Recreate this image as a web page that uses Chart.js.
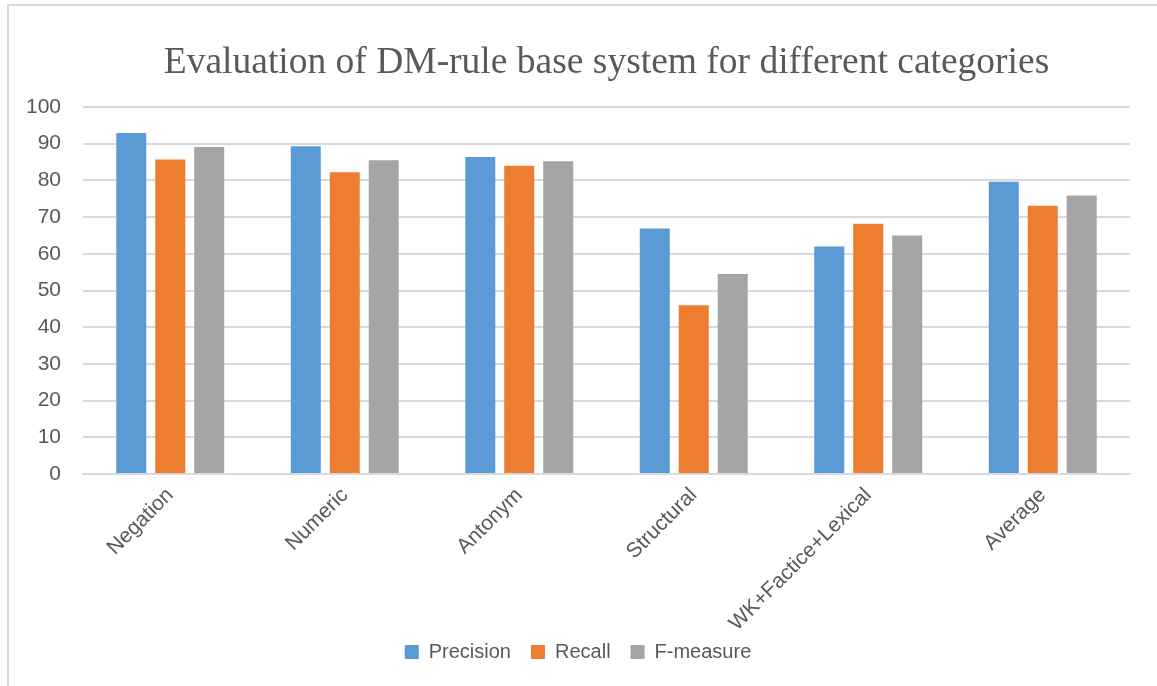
<!DOCTYPE html>
<html>
<head>
<meta charset="utf-8">
<script src="https://cdn.jsdelivr.net/npm/chart.js@4.4.1/dist/chart.umd.min.js"></script>
<style>
  html, body { margin: 0; padding: 0; background: #fff; overflow: hidden; }
  #frame { position: absolute; left: 7px; top: 4px; width: 1160px; height: 700px; border: 2px solid #d9d9d9; box-sizing: border-box; }
  #mycanvas { position: absolute; left: 0; top: 0; }
</style>
</head>
<body>
<div id="frame"></div>
<canvas id="mycanvas" width="1157" height="686"></canvas>
<script>
// values
var categories = ['Negation', 'Numeric', 'Antonym', 'Structural', 'WK+Factice+Lexical', 'Average'];
var precision = [92.9, 89.3, 86.4, 66.9, 62.0, 79.6];
var recall    = [85.7, 82.2, 84.0, 46.0, 68.2, 73.1];
var fmeasure  = [89.1, 85.5, 85.2, 54.5, 65.0, 75.9];
var yTicks    = [0, 10, 20, 30, 40, 50, 60, 70, 80, 90, 100];

var textColor = '#595959';
var gridColor = '#d9d9d9';
var sans = 'Liberation Sans, Arial, sans-serif';

var chartdata = {
	labels: categories,
	datasets: [
		{ label: 'Precision', backgroundColor: '#5B9BD5', data: precision },
		{ label: 'Recall', backgroundColor: '#ED7D31', data: recall },
		{ label: 'F-measure', backgroundColor: '#A5A5A5', data: fmeasure }
	]
};

// let the long rotated x labels run past the axis box (into the legend strip)
var noLabelClip = {
	id: 'noLabelClip',
	beforeDraw: function(chart) {
		chart.scales.x._computeLabelArea = function() { return undefined; };
	}
};

var ctx = document.getElementById('mycanvas');

var bargraph = new Chart(ctx, {
	type: 'bar',
	data: chartdata,
	plugins: [noLabelClip],
	options: {
		responsive: false,
		animation: false,
		devicePixelRatio: 1,
		layout: { padding: { left: 26, right: 27, top: 0, bottom: 14 } },
		datasets: { bar: { categoryPercentage: 0.67, barPercentage: 0.77 } },
		plugins: {
			title: {
				display: true,
				fullSize: false,
				text: 'Evaluation of DM-rule base system for different categories',
				color: textColor,
				font: { family: 'Liberation Serif, Times New Roman, serif', size: 37.5, weight: 'normal' },
				padding: { top: 41, bottom: 21 }
			},
			legend: {
				position: 'bottom',
				labels: {
					color: textColor,
					font: { family: sans, size: 20 },
					boxWidth: 14,
					boxHeight: 14,
					padding: 20
				}
			},
			tooltip: { enabled: false }
		},
		scales: {
			x: {
				grid: { display: false },
				border: { color: gridColor, width: 2 },
				ticks: {
					color: textColor,
					font: { family: sans, size: 21 },
					minRotation: 45,
					maxRotation: 45,
					padding: 1
				},
				afterFit: function(s) { s.height = 148; }
			},
			y: {
				min: 0,
				max: 100,
				afterBuildTicks: function(s) { s.ticks = yTicks.map(function(v) { return { value: v }; }); },
				grid: { color: gridColor, lineWidth: 2, drawTicks: false },
				border: { display: false },
				ticks: {
					color: textColor,
					font: { family: sans, size: 21 },
					padding: 22
				},
				afterFit: function(s) { s.width = 57; }
			}
		}
	}
});
</script>
</body>
</html>
